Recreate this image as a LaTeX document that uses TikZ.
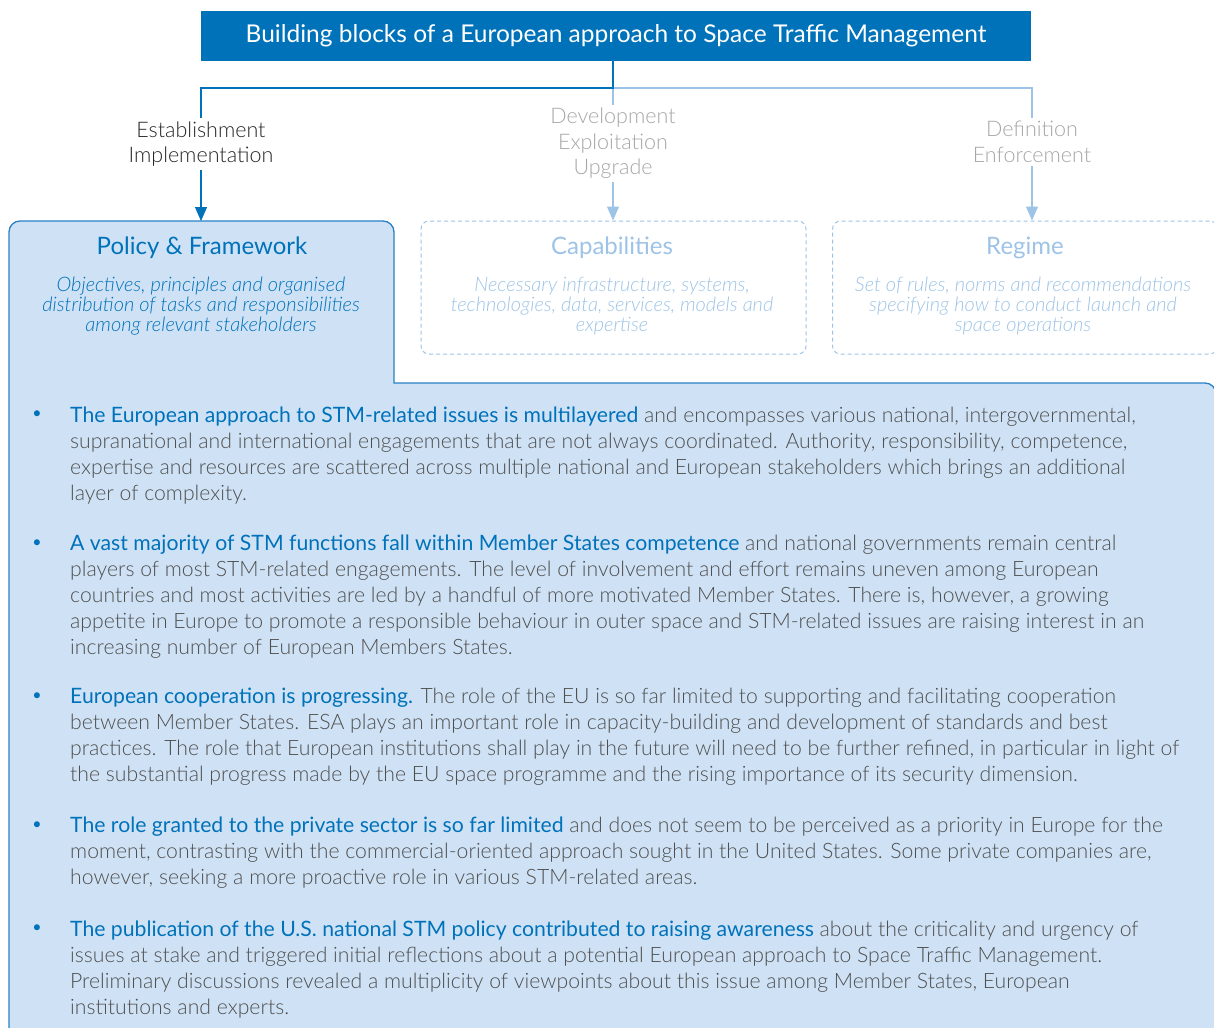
\documentclass[tikz,border=0pt]{standalone}
\usepackage{fontspec}
\setmainfont{Lato}[
  FontFace={l}{n}{Font=* Light},
  FontFace={l}{it}{Font=* Light Italic}]
\usetikzlibrary{arrows.meta,positioning}

\definecolor{stmblue}{HTML}{0072BA}
\definecolor{stmlight}{HTML}{9DC3E6}
\definecolor{stmfill}{HTML}{CFE2F5}
\definecolor{stmedge}{HTML}{2A80C4}
\definecolor{stmgrey}{HTML}{4F4F4F}
\definecolor{stmlabel}{HTML}{A6A6A6}

\newcommand{\lead}[1]{{\fontseries{m}\selectfont\textcolor{stmblue}{#1}}}

\begin{document}
\begin{tikzpicture}[
        x=1pt, y=-1pt,
        header/.style={
            fill=stmblue, text=white, inner sep=0,
            minimum width=830pt, minimum height=50pt,
            font=\fontsize{24.5}{28}\selectfont
        },
        steplabel/.style={
            align=center, inner sep=3pt,
            font=\fontseries{l}\fontsize{21.5}{25.5}\selectfont
        },
        blocktitle/.style={inner sep=0, font=\fontsize{24}{26}\selectfont},
        blocktext/.style={align=center, inner sep=0, font=\fontseries{l}\fontsize{20}{20}\selectfont\itshape},
        ghostbox/.style={
            draw=stmlight, line width=1pt, dash pattern=on 4pt off 3pt,
            rounded corners=8pt, minimum width=385pt, minimum height=133pt
        },
        item/.style={
            anchor=north west, align=left, inner sep=0, text=stmgrey,
            font=\fontseries{l}\fontsize{21.2}{26}\selectfont
        },
        dot/.style={text=stmblue, inner sep=0, font=\fontsize{16}{20}\selectfont},
        link/.style={stmblue, line width=1.2pt},
        faint/.style={stmlight, line width=1.2pt},
        tip/.style={-{Triangle[length=14pt,width=12pt]}}
      ]

  \useasboundingbox (0,0) rectangle (1214,1027);
  \clip (0,0) rectangle (1214,1027);

  % policy panel with the notes
  \draw[fill=stmfill, draw=stmedge, line width=1.3pt, rounded corners=11pt]
    (9,1040) -- (9,221) -- (394,221) [sharp corners] -- (394,383)
    [rounded corners=11pt] -- (1216,383) -- (1216,1040);

  \node[header] (head) at (616,36) {Building blocks of a European approach to Space Traffic Management};

  \coordinate (split) at (613,88);

  \node[steplabel, text=black!85] (est) at (201,144) {Establishment\\Implementation};
  \node[steplabel, text=stmlabel] (dev) at (613,143.5) {Development\\Exploitation\\Upgrade};
  \node[steplabel, text=stmlabel] (def) at (1032,142) {Definition\\Enforcement};

  \node[ghostbox] (cap) at (613.5,287.5) {};
  \node[ghostbox] (reg) at (1025,287.5) {};
  \coordinate (pol) at (201,221);

  \node[blocktitle, text=stmblue] (poltitle) at (202,248) {Policy \& Framework};
  \node[blocktitle, text=stmlight] (captitle) at (612,248) {Capabilities};
  \node[blocktitle, text=stmlight] (regtitle) at (1025,248) {Regime};

  \node[blocktext, text=stmblue] (poltext) at (201,306)
    {Objectives, principles and organised\\distribution of tasks and responsibilities\\among relevant stakeholders};
  \node[blocktext, text=stmlight] (captext) at (612,306)
    {Necessary infrastructure, systems,\\technologies, data, services, models and\\expertise};
  \node[blocktext, text=stmlight] (regtext) at (1023,306)
    {Set of rules, norms and recommendations\\specifying how to conduct launch and\\space operations};

  % connectors
  \draw[faint] (split) -| (def.north);
  \draw[faint] (split) -- (dev.north);
  \draw[faint, tip] (dev.south) -- (dev.south |- cap.north);
  \draw[faint, tip] (def.south) -- (def.south |- reg.north);
  \draw[link] (split |- head.south) -- (split) -| (est.north);
  \draw[link, tip] (est.south) -- (pol);

  % notes
  \node[item] (b1) at (70,406.5) {\lead{The European approach to STM-related issues is multilayered} and encompasses various national, intergovernmental,\\
    supranational and international engagements that are not always coordinated. Authority, responsibility, competence,\\
    expertise and resources are scattered across multiple national and European stakeholders which brings an additional\\
    layer of complexity.};
  \node[item] (b2) at (70,534.5) {\lead{A vast majority of STM functions fall within Member States competence} and national governments remain central\\
    players of most STM-related engagements. The level of involvement and effort remains uneven among European\\
    countries and most activities are led by a handful of more motivated Member States. There is, however, a growing\\
    appetite in Europe to promote a responsible behaviour in outer space and STM-related issues are raising interest in an\\
    increasing number of European Members States.};
  \node[item] (b3) at (70,688) {\lead{European cooperation is progressing.} The role of the EU is so far limited to supporting and facilitating cooperation\\
    between Member States. ESA plays an important role in capacity-building and development of standards and best\\
    practices. The role that European institutions shall play in the future will need to be further refined, in particular in light of\\
    the substantial progress made by the EU space programme and the rising importance of its security dimension.};
  \node[item] (b4) at (70,817) {\lead{The role granted to the private sector is so far limited} and does not seem to be perceived as a priority in Europe for the\\
    moment, contrasting with the commercial-oriented approach sought in the United States. Some private companies are,\\
    however, seeking a more proactive role in various STM-related areas.};
  \node[item] (b5) at (70,920.5) {\lead{The publication of the U.S. national STM policy contributed to raising awareness} about the criticality and urgency of\\
    issues at stake and triggered initial reflections about a potential European approach to Space Traffic Management.\\
    Preliminary discussions revealed a multiplicity of viewpoints about this issue among Member States, European\\
    institutions and experts.};

  \node[dot] (d1) at (37,415) {•};
  \node[dot] (d2) at (37,544) {•};
  \node[dot] (d3) at (37,697) {•};
  \node[dot] (d4) at (37,826) {•};
  \node[dot] (d5) at (37,929) {•};
\end{tikzpicture}
\end{document}
